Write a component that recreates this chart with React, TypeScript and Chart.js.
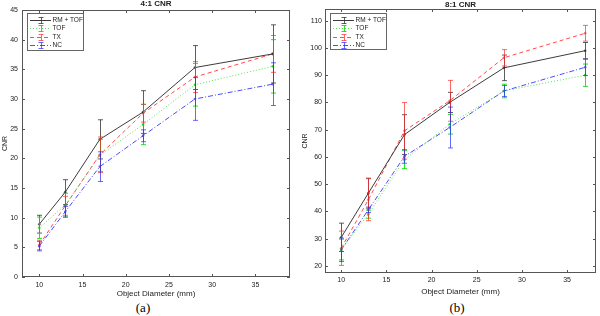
import React, { useEffect, useRef } from "react";
import { Chart, registerables } from "chart.js";
Chart.register(...registerables);

// ---------- data ----------
const diameters = [10, 13, 17, 22, 28, 37];
const seriesLabels = ["RM + TOF", "TOF", "TX", "NC"];
const xTicks = [10, 15, 20, 25, 30, 35];
const yTicks41 = [0, 5, 10, 15, 20, 25, 30, 35, 40, 45];
const yTicks81 = [20, 30, 40, 50, 60, 70, 80, 90, 100, 110];

// 4:1 CNR
const cnr41RmTof = [8.9, 14.3, 23.2, 27.8, 35.3, 37.6];
const cnr41RmTofErr = [1.5, 2.1, 3.3, 3.6, 3.7, 4.9];
const cnr41Tof = [8.3, 12.1, 20.5, 25.7, 32.4, 35.5];
const cnr41TofErr = [1.8, 2.0, 2.7, 3.4, 3.6, 4.5];
const cnr41Tx = [5.4, 12.0, 20.6, 27.6, 33.7, 37.6];
const cnr41TxErr = [0.8, 1.6, 3.0, 1.5, 2.6, 3.1];
const cnr41Nc = [5.2, 11.0, 18.6, 23.8, 30.0, 32.5];
const cnr41NcErr = [0.8, 0.9, 2.5, 1.0, 3.6, 3.6];

// 8:1 CNR
const cnr81RmTof = [30.5, 46.7, 68.2, 80.0, 92.7, 99.0];
const cnr81RmTofErr = [5.2, 5.5, 7.3, 3.7, 4.7, 3.0];
const cnr81Tof = [26.0, 39.0, 59.0, 72.0, 84.2, 90.0];
const cnr81TofErr = [3.8, 1.5, 3.3, 3.6, 2.5, 4.1];
const cnr81Tx = [26.5, 44.3, 69.6, 80.6, 96.4, 105.4];
const cnr81TxErr = [6.3, 7.7, 10.4, 7.5, 3.0, 2.9];
const cnr81Nc = [25.9, 40.6, 60.2, 70.8, 84.2, 92.9];
const cnr81NcErr = [4.3, 1.0, 2.5, 7.5, 2.0, 3.0];

// ---------- styles ----------
const styles = [
  { line: "#3c3c3c", err: "rgba(40,40,40,0.75)", dash: [] as number[] },
  { line: "#55e055", err: "rgba(0,220,0,0.85)", dash: [1, 2] },
  { line: "#ff4a4a", err: "rgba(255,40,40,0.7)", dash: [4, 3] },
  { line: "#4a4aff", err: "rgba(40,40,255,0.7)", dash: [5, 2, 1, 2] },
];
const FONT = '"Liberation Sans", Arial, sans-serif';

const panelPlugin = {
  id: "panelDecor",
  afterDatasetsDraw(chart: any) {
    const { ctx, scales } = chart;
    const xs = scales.x;
    const ys = scales.y;
    chart.data.datasets.forEach((ds: any) => {
      ctx.save();
      ctx.strokeStyle = ds.errColor;
      ctx.lineWidth = 1;
      ds.data.forEach((pt: any, j: number) => {
        const e = ds.errors[j];
        const px = Math.round(xs.getPixelForValue(pt.x)) + 0.5;
        const top = ys.getPixelForValue(pt.y + e);
        const bot = ys.getPixelForValue(pt.y - e);
        ctx.beginPath();
        ctx.moveTo(px, top);
        ctx.lineTo(px, bot);
        ctx.moveTo(px - 2.5, top);
        ctx.lineTo(px + 2.5, top);
        ctx.moveTo(px - 2.5, bot);
        ctx.lineTo(px + 2.5, bot);
        ctx.stroke();
      });
      ctx.restore();
    });
  },
  afterDraw(chart: any, _args: any, opts: any) {
    const { ctx, chartArea: a, scales } = chart;
    const xs = scales.x;
    const ys = scales.y;
    ctx.save();
    // frame
    ctx.strokeStyle = "#555";
    ctx.lineWidth = 1;
    ctx.strokeRect(Math.round(a.left) + 0.5, Math.round(a.top) + 0.5, Math.round(a.right - a.left) - 1, Math.round(a.bottom - a.top) - 1);
    // inward ticks
    ctx.beginPath();
    xs.ticks.forEach((t: any) => {
      const px = Math.round(xs.getPixelForValue(t.value)) + 0.5;
      ctx.moveTo(px, a.bottom);
      ctx.lineTo(px, a.bottom - 3);
      ctx.moveTo(px, a.top);
      ctx.lineTo(px, a.top + 3);
    });
    ys.ticks.forEach((t: any) => {
      const py = Math.round(ys.getPixelForValue(t.value)) + 0.5;
      ctx.moveTo(a.left, py);
      ctx.lineTo(a.left + 3, py);
      ctx.moveTo(a.right, py);
      ctx.lineTo(a.right - 3, py);
    });
    ctx.stroke();
    // title
    ctx.fillStyle = "#222";
    ctx.font = `bold 8px ${FONT}`;
    ctx.textAlign = "center";
    ctx.textBaseline = "middle";
    ctx.fillText(opts.title, (a.left + a.right) / 2, opts.titleY);
    // legend
    const lx = a.left + opts.legX;
    const ly = a.top + opts.legY;
    const lw = opts.legW;
    const lh = opts.legH;
    ctx.fillStyle = "#fff";
    ctx.fillRect(lx, ly, lw, lh);
    ctx.strokeStyle = "#666";
    ctx.strokeRect(lx + 0.5, ly + 0.5, lw, lh);
    chart.data.datasets.forEach((ds: any, i: number) => {
      const yy = Math.round(ly + 7 + i * 8.4) + 0.5;
      const x0 = lx + 3;
      const x1 = lx + 24;
      const xm = (x0 + x1) / 2;
      ctx.strokeStyle = ds.borderColor;
      ctx.setLineDash(ds.borderDash);
      ctx.beginPath();
      ctx.moveTo(x0, yy);
      ctx.lineTo(x1, yy);
      ctx.stroke();
      ctx.setLineDash([]);
      ctx.strokeStyle = ds.errColor;
      ctx.beginPath();
      ctx.moveTo(Math.round(xm) + 0.5, yy - 3);
      ctx.lineTo(Math.round(xm) + 0.5, yy + 3);
      ctx.moveTo(xm - 2, yy - 3);
      ctx.lineTo(xm + 3, yy - 3);
      ctx.moveTo(xm - 2, yy + 3);
      ctx.lineTo(xm + 3, yy + 3);
      ctx.stroke();
      ctx.fillStyle = "#222";
      ctx.font = `6.5px ${FONT}`;
      ctx.textAlign = "left";
      ctx.textBaseline = "middle";
      ctx.fillText(ds.label, x1 + 1.5, yy);
    });
    ctx.restore();
  },
};

type PanelCfg = {
  title: string;
  values: number[][];
  errors: number[][];
  xMin: number;
  xMax: number;
  yMin: number;
  yMax: number;
  yTicks: number[];
  padTop: number;
  padRight: number;
  yAxisW: number;
  xAxisH: number;
  xTickPad: number;
  xTitlePad: number;
  yTickPad: number;
  titleY: number;
  legX: number;
  legY: number;
  legW: number;
  legH: number;
};

function makeChart(canvas: HTMLCanvasElement, p: PanelCfg) {
  const datasets = seriesLabels.map((label, i) => ({
    label,
    data: diameters.map((d, j) => ({ x: d, y: p.values[i][j] })),
    errors: p.errors[i],
    errColor: styles[i].err,
    borderColor: styles[i].line,
    backgroundColor: styles[i].line,
    borderDash: styles[i].dash,
    borderWidth: 1,
    pointRadius: 1.3,
    pointBorderWidth: 0,
    pointBackgroundColor: styles[i].err,
    tension: 0,
    fill: false,
  }));
  return new Chart(canvas, {
    type: "line",
    data: { datasets: datasets as any },
    plugins: [panelPlugin],
    options: {
      animation: false,
      responsive: false,
      devicePixelRatio: 1,
      layout: { padding: { left: 0, top: p.padTop, right: p.padRight, bottom: 0 } },
      plugins: {
        legend: { display: false },
        tooltip: { enabled: false },
        title: { display: false },
        panelDecor: {
          title: p.title,
          titleY: p.titleY,
          legX: p.legX,
          legY: p.legY,
          legW: p.legW,
          legH: p.legH,
        },
      } as any,
      scales: {
        x: {
          type: "linear",
          min: p.xMin,
          max: p.xMax,
          afterBuildTicks: (s: any) => {
            s.ticks = xTicks.map((v) => ({ value: v }));
          },
          afterFit: (s: any) => {
            s.height = p.xAxisH;
          },
          grid: { display: false, drawTicks: false, tickLength: 0 },
          border: { display: false },
          ticks: { padding: p.xTickPad, color: "#222", font: { family: FONT, size: 7 }, maxRotation: 0 },
          title: {
            display: true,
            text: "Object Diameter (mm)",
            color: "#222",
            font: { family: FONT, size: 8 },
            padding: { top: 0, bottom: p.xTitlePad },
          },
        },
        y: {
          type: "linear",
          min: p.yMin,
          max: p.yMax,
          afterBuildTicks: (s: any) => {
            s.ticks = p.yTicks.map((v) => ({ value: v }));
          },
          afterFit: (s: any) => {
            s.width = p.yAxisW;
          },
          grid: { display: false, drawTicks: false, tickLength: 0 },
          border: { display: false },
          ticks: { padding: p.yTickPad, color: "#222", font: { family: FONT, size: 7 } },
          title: {
            display: true,
            text: "CNR",
            color: "#222",
            font: { family: FONT, size: 7 },
            padding: { top: 1, bottom: 0 },
          },
        },
      },
    } as any,
  });
}

export default function App() {
  const leftRef = useRef<HTMLCanvasElement>(null);
  const rightRef = useRef<HTMLCanvasElement>(null);

  useEffect(() => {
    const c1 = makeChart(leftRef.current!, {
      title: "4:1 CNR",
      values: [cnr41RmTof, cnr41Tof, cnr41Tx, cnr41Nc],
      errors: [cnr41RmTofErr, cnr41TofErr, cnr41TxErr, cnr41NcErr],
      xMin: 8,
      xMax: 39,
      yMin: 0,
      yMax: 45,
      yTicks: yTicks41,
      padTop: 10,
      padRight: 10,
      yAxisW: 22,
      xAxisH: 23,
      xTickPad: 3.5,
      xTitlePad: 1.5,
      yTickPad: 4,
      titleY: 4,
      legX: 5,
      legY: 3,
      legW: 56,
      legH: 37,
    });
    const c2 = makeChart(rightRef.current!, {
      title: "8:1 CNR",
      values: [cnr81RmTof, cnr81Tof, cnr81Tx, cnr81Nc],
      errors: [cnr81RmTofErr, cnr81TofErr, cnr81TxErr, cnr81NcErr],
      xMin: 8.2,
      xMax: 38.2,
      yMin: 17.4,
      yMax: 114.3,
      yTicks: yTicks81,
      padTop: 9,
      padRight: 2,
      yAxisW: 25,
      xAxisH: 27,
      xTickPad: 2.5,
      xTitlePad: 3.5,
      yTickPad: 3,
      titleY: 5,
      legX: 5,
      legY: 4,
      legW: 56,
      legH: 36,
    });
    return () => {
      c1.destroy();
      c2.destroy();
    };
  }, []);

  const capStyle: React.CSSProperties = {
    position: "absolute",
    top: 300,
    width: 40,
    height: 16,
    lineHeight: "16px",
    textAlign: "center",
    font: '13px "Liberation Serif", "Times New Roman", serif',
    color: "#000",
  };

  return (
    <div style={{ position: "absolute", left: 0, top: 0, width: 600, height: 316, background: "#fff", overflow: "hidden" }}>
      <canvas ref={leftRef} width={300} height={300} style={{ position: "absolute", left: 0, top: 0 }} />
      <canvas ref={rightRef} width={300} height={300} style={{ position: "absolute", left: 300, top: 0 }} />
      <div style={{ ...capStyle, left: 123 }}>(a)</div>
      <div style={{ ...capStyle, left: 437 }}>(b)</div>
    </div>
  );
}
